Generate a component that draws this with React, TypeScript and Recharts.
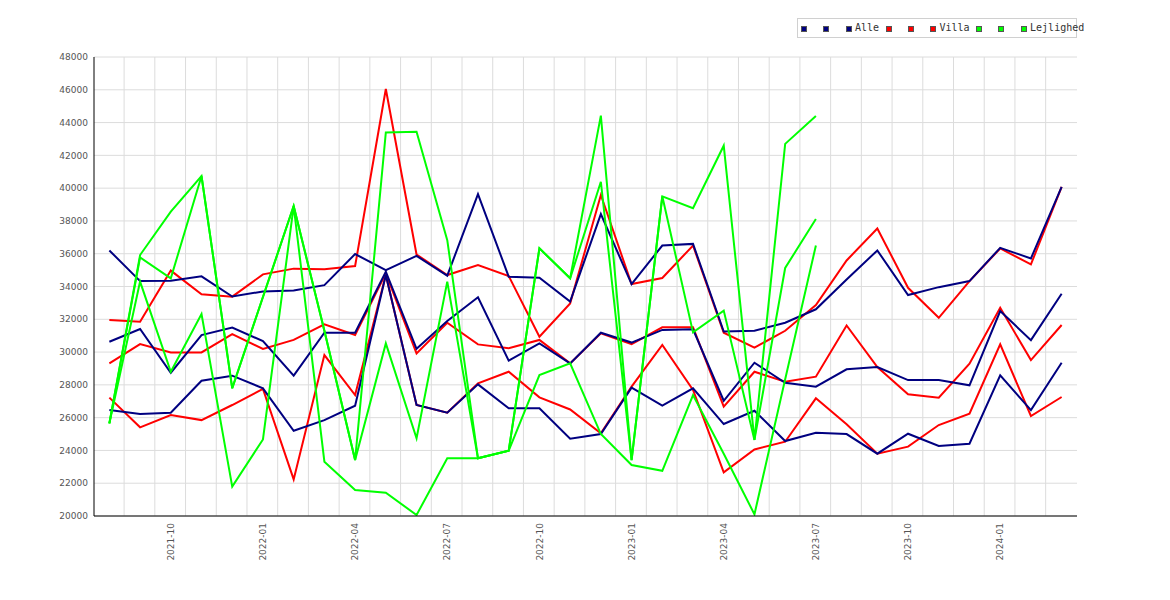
import React from 'react';
import { LineChart, Line, XAxis, YAxis, CartesianGrid, Legend } from 'recharts';

const months = [
  '2021-08', '2021-09', '2021-10', '2021-11', '2021-12',
  '2022-01', '2022-02', '2022-03', '2022-04', '2022-05', '2022-06', '2022-07', '2022-08', '2022-09', '2022-10', '2022-11', '2022-12',
  '2023-01', '2023-02', '2023-03', '2023-04', '2023-05', '2023-06', '2023-07', '2023-08', '2023-09', '2023-10', '2023-11', '2023-12',
  '2024-01', '2024-02', '2024-03',
];

const alleHigh = [36200, 34330, 34350, 34620, 33390, 33700, 33750, 34080, 35980, 35000, 35870, 34660, 39640, 34600, 34530, 33080, 38420, 34150, 36500, 36600, 31250, 31300, 31790, 32610, 34430, 36200, 33480, 33960, 34330, 36360, 35710, 40080];
const alleMid = [30630, 31410, 28740, 31040, 31490, 30670, 28560, 31180, 31180, 34900, 30200, 31900, 33340, 29480, 30530, 29310, 31180, 30580, 31350, 31390, 27030, 29350, 28130, 27890, 28950, 29090, 28290, 28290, 27970, 32500, 30730, 33560];
const alleLow = [26460, 26220, 26300, 28250, 28560, 27790, 25200, 25850, 26730, 34700, 26770, 26300, 28030, 26570, 26570, 24720, 25000, 27830, 26730, 27790, 25610, 26420, 24570, 25080, 25000, 23800, 25020, 24270, 24410, 28580, 26460, 29350];

const villaHigh = [31960, 31850, 34970, 33520, 33380, 34740, 35090, 35050, 35250, 46050, 35950, 34700, 35310, 34640, 30940, 32970, 39580, 34150, 34520, 36500, 31180, 30270, 31300, 32870, 35590, 37540, 33920, 32090, 34330, 36320, 35350, 40080];
const villaMid = [29310, 30490, 29980, 29980, 31100, 30190, 30740, 31690, 31040, 34800, 29920, 31790, 30470, 30230, 30740, 29310, 31140, 30490, 31510, 31510, 26670, 28800, 28190, 28500, 31620, 29090, 27420, 27220, 29290, 32700, 29510, 31650];
const villaLow = [27220, 25410, 26160, 25850, 26770, 27750, 22230, 29820, 27380, 34700, 26770, 26300, 28090, 28800, 27240, 26500, 25040, 27890, 30430, 27690, 22660, 24060, 24530, 27180, 25600, 23800, 24230, 25550, 26240, 30470, 26100, 27260];

const lejHigh = [25650, 35920, 38570, 40740, 27790, 33360, 38910, 31300, 23410, 43400, 43440, 36830, 23520, 23980, 36330, 34500, 44420, 23410, 39500, 38770, 42590, 24640, 42700, 44400];
const lejMid = [25650, 35780, 34500, 40740, 27790, 33360, 38910, 31300, 23410, 30530, 24740, 34300, 23520, 23980, 36330, 34500, 40390, 23410, 39500, 31200, 32530, 24640, 35130, 38120];
const lejLow = [25650, 34300, 28800, 32320, 21790, 24670, 38910, 23310, 21580, 21420, 20060, 23520, 23520, 23980, 28600, 29310, 25000, 23110, 22760, 27380, 23800, 20100, 28340, 36500];

const yTicks = [20000, 22000, 24000, 26000, 28000, 30000, 32000, 34000, 36000, 38000, 40000, 42000, 44000, 46000, 48000];
const xTickIdx = [2, 5, 8, 11, 14, 17, 20, 23, 26, 29];

const NAVY = '#000080';
const RED = '#ff0000';
const GREEN = '#00ff00';

const legendItems = [
  { color: NAVY, label: '' },
  { color: NAVY, label: '' },
  { color: NAVY, label: 'Alle' },
  { color: RED, label: '' },
  { color: RED, label: '' },
  { color: RED, label: 'Villa' },
  { color: GREEN, label: '' },
  { color: GREEN, label: '' },
  { color: GREEN, label: 'Lejlighed' },
];

const rows = months.map((m, i) => ({
  idx: i,
  month: m,
  alleHigh: alleHigh[i],
  alleMid: alleMid[i],
  alleLow: alleLow[i],
  villaHigh: villaHigh[i],
  villaMid: villaMid[i],
  villaLow: villaLow[i],
  lejHigh: i < lejHigh.length ? lejHigh[i] : null,
  lejMid: i < lejMid.length ? lejMid[i] : null,
  lejLow: i < lejLow.length ? lejLow[i] : null,
}));

const XTick = (props: any) => {
  const { x, y, payload } = props;
  return (
    <text
      x={x}
      y={y}
      transform={`rotate(-90, ${x}, ${y})`}
      textAnchor="end"
      dy="0.35em"
      fontFamily="DejaVu Sans"
      fontSize={9}
      fill="#555"
    >
      {months[payload.value]}
    </text>
  );
};

const LegendBox = () => (
  <div
    style={{
      width: 280,
      height: 20,
      boxSizing: 'border-box',
      border: '1px solid #d0d0d0',
      display: 'flex',
      alignItems: 'center',
      paddingLeft: 3,
      whiteSpace: 'nowrap',
      overflow: 'visible',
      fontFamily: '"DejaVu Sans Mono", monospace',
      fontSize: 10,
      color: '#333',
      background: '#fff',
    }}
  >
    {legendItems.map((it, k) => (
      <div key={k} style={{ display: 'flex', alignItems: 'center', marginRight: it.label ? 6.6 : 16.3, flexShrink: 0 }}>
        <span
          style={{
            width: 6,
            height: 6,
            boxSizing: 'border-box',
            border: '1px solid #555',
            background: it.color,
            display: 'inline-block',
            marginTop: 2,
          }}
        />
        {it.label ? <span style={{ marginLeft: 3.3, lineHeight: '10px' }}>{it.label}</span> : null}
      </div>
    ))}
  </div>
);

const verticalGen = (props: any) => {
  const sc = props && props.xAxis && props.xAxis.scale;
  const out: number[] = [];
  for (let i = 0; i < months.length - 1; i++) {
    const p = i + 0.48;
    if (typeof sc === 'function') out.push(sc(p));
    else out.push(props.offset.left + ((p + 0.5) / months.length) * props.offset.width);
  }
  return out;
};

export default function App() {
  const common = { type: 'linear' as const, dot: false, activeDot: false, isAnimationActive: false, strokeWidth: 2, connectNulls: false };
  return (
    <div style={{ width: 1154, height: 584 }}>
      <LineChart width={1154} height={584} data={rows} margin={{ top: 49, right: 85, left: 0, bottom: 6 }}>
        <CartesianGrid stroke="#dcdcdc" strokeWidth={1} verticalCoordinatesGenerator={verticalGen} />
        <XAxis
          dataKey="idx"
          type="number"
          domain={[-0.5, 31.5]}
          ticks={xTickIdx}
          interval={0}
          allowDataOverflow
          tickLine={false}
          axisLine={{ stroke: '#000' }}
          tickSize={5}
          tickMargin={2}
          height={70}
          tick={<XTick />}
        />
        <YAxis
          type="number"
          domain={[20000, 48000]}
          ticks={yTicks}
          interval={0}
          allowDataOverflow
          width={86}
          tickLine={false}
          axisLine={{ stroke: '#000' }}
          tickSize={4}
          tickMargin={2}
          tick={{ fontFamily: 'DejaVu Sans', fontSize: 9, fill: '#555' }}
        />
        <Legend
          layout="vertical"
          verticalAlign="middle"
          align="center"
          content={() => <LegendBox />}
          wrapperStyle={{ position: 'absolute', top: 10, left: 789, width: 280 }}
        />
        <Line {...common} dataKey="villaHigh" stroke={RED} />
        <Line {...common} dataKey="villaMid" stroke={RED} />
        <Line {...common} dataKey="villaLow" stroke={RED} />
        <Line {...common} dataKey="alleHigh" stroke={NAVY} />
        <Line {...common} dataKey="alleMid" stroke={NAVY} />
        <Line {...common} dataKey="alleLow" stroke={NAVY} />
        <Line {...common} dataKey="lejHigh" stroke={GREEN} />
        <Line {...common} dataKey="lejMid" stroke={GREEN} />
        <Line {...common} dataKey="lejLow" stroke={GREEN} />
      </LineChart>
    </div>
  );
}
